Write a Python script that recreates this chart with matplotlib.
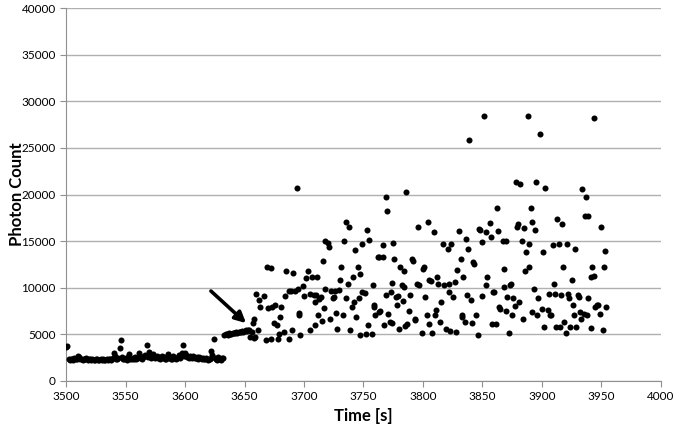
import matplotlib
matplotlib.use("Agg")
import matplotlib.pyplot as plt
import numpy as np

plt.rcParams['font.family'] = ['Lato', 'DejaVu Sans']

# baseline before the step, one reading per second from 3500 s
base_start = 3500
base_v = [3650, 3750, 2350, 2300, 2400, 2350, 2300, 2450, 2350, 2400, 2700, 2550, 2400, 2350, 2300, 2400, 2350, 2450, 2300, 2350,
          2400, 2300, 2350, 2250, 2300, 2400, 2350, 2300, 2250, 2350, 2300, 2400, 2300, 2250, 2350, 2300, 2400, 2350, 2300, 2450,
          3000, 2700, 2400, 2350, 2500, 3550, 4400, 2600, 2400, 2350, 2450, 2300, 2600, 2900, 2400, 2350, 2500, 2400, 2600, 2350,
          2450, 3050, 2700, 2500, 2400, 2550, 2800, 2650, 3900, 2600, 3150, 2500, 2650, 2900, 2550, 2450, 2700, 2500, 2600, 2400,
          2450, 2700, 2550, 2400, 2350, 2600, 2900, 2500, 2400, 2350, 2700, 2450, 2350, 2500, 2600, 2800, 2450, 3000, 3850, 2700,
          2950, 2800, 2600, 2500, 2700, 2550, 2450, 2650, 2500, 2450, 2600, 2400, 2550, 2450, 2400, 2500, 2350, 2400, 2450, 2300,
          2350, 2400, 3200, 2800, 4450, 2500, 2350, 2300, 2600, 2400, 2300, 2500, 2450]

# plateau right after the step (arrow)
step_start = 3633
step_v = [4950, 5000, 5050, 4950, 5100, 5000, 5050, 5100, 5150, 5100, 5200,
          5150, 5250, 5200, 5300, 5350, 5300, 5400, 5450, 5400, 5500, 5450]

# scattered readings after 3655 s
scat_t = [3655, 3658, 3659, 3658, 3660, 3662, 3663, 3666, 3661, 3668, 3669, 3672, 3670, 3672, 3673, 3675, 3676, 3677,
          3678, 3679, 3680, 3681, 3683, 3684, 3685, 3687, 3687, 3689, 3690, 3691, 3692, 3694, 3695, 3696, 3696, 3697,
          3657, 3656,
          3699, 3700, 3702, 3703, 3705, 3705, 3707, 3708, 3709, 3709, 3710, 3711, 3712, 3713, 3714, 3715, 3716, 3717,
          3718, 3718, 3720, 3721, 3722, 3723,
          3724, 3725, 3726, 3727, 3728, 3729, 3730, 3731, 3733, 3734, 3735, 3735, 3737, 3738, 3739, 3740, 3741, 3742,
          3743, 3744, 3745,
          3746, 3747, 3747, 3749, 3749, 3751, 3752, 3753, 3754, 3755, 3757, 3758, 3759, 3759, 3760, 3762, 3763, 3763,
          3764, 3766, 3766, 3767, 3769, 3769, 3770, 3771, 3772, 3773, 3774, 3774, 3775,
          3776, 3777, 3778, 3779, 3780, 3781, 3782, 3783, 3784, 3784, 3785, 3786, 3787, 3788, 3789, 3791, 3792, 3793,
          3793, 3795, 3796, 3797, 3799, 3800, 3801, 3802,
          3803, 3804, 3805, 3805, 3807, 3808, 3809, 3810, 3811, 3812, 3813, 3814, 3815, 3817, 3818, 3819, 3821, 3822,
          3822, 3823, 3824, 3825, 3827, 3828,
          3829, 3830, 3832, 3833, 3833, 3834, 3835, 3836, 3837, 3838, 3839, 3840, 3841, 3842, 3843, 3845, 3846, 3847,
          3848, 3850, 3850, 3851, 3853, 3853,
          3854, 3856, 3857, 3858, 3859, 3860, 3861, 3862, 3863, 3864, 3865, 3867, 3868, 3868, 3870, 3870, 3871, 3872,
          3873, 3874, 3875, 3876, 3877, 3878, 3879,
          3880, 3881, 3882, 3883, 3884, 3885, 3886, 3887, 3888, 3889, 3889, 3891, 3892, 3892, 3893, 3894, 3895, 3896,
          3897, 3898, 3900, 3901, 3902, 3903,
          3905, 3906, 3907, 3908, 3909, 3910, 3911, 3912, 3913, 3914, 3915, 3916, 3917, 3918, 3919, 3920, 3921, 3922,
          3923, 3924, 3925, 3926, 3927, 3928, 3929,
          3930, 3931, 3932, 3933, 3934, 3935, 3936, 3937, 3938, 3939, 3939, 3941, 3941, 3942, 3944, 3944, 3945, 3946,
          3947, 3949, 3950, 3951, 3952, 3953, 3954]
scat_v = [4750, 4650, 4750, 6700, 9350, 8700, 7950, 9100, 5450, 4400, 12200, 12100, 7850, 4450, 7950, 6250, 8100, 6000,
          4450, 5000, 6900, 7950, 5200, 9100, 11850, 4550, 9600, 9600, 5450, 11600, 9700, 20750, 9900, 7050, 7250, 4900,
          6200, 5300,
          10150, 9100, 11050, 11850, 5450, 9350, 11200, 9200, 6050, 8450, 9200, 11150, 7050, 8750, 9000, 6400, 12900, 7850,
          9850, 15000, 14800, 14350, 6600, 9700,
          8900, 9000, 9600, 7300, 5600, 9800, 10800, 12200, 7050, 15050, 8900, 17100, 10350, 16500, 5450, 7950, 11200, 8450,
          14050, 6850, 12200,
          8900, 11450, 4900, 9550, 14700, 9450, 5000, 16200, 6000, 15100, 5000, 10250, 8200, 7950, 7050, 13350, 7400, 13350,
          7500, 13350, 14550, 6000, 9250, 19700, 18200, 7200, 6350, 9550, 6250, 10500, 14800,
          13100, 9000, 8100, 9100, 5600, 12200, 10300, 8550, 11850, 10100, 5850, 20250, 6150, 7500, 9200, 13100, 12900, 6500,
          6600, 10450, 16550, 10300, 5150, 12050, 12200, 9000,
          7050, 17050, 10800, 6150, 10700, 5100, 15950, 7050, 7600, 11150, 10350, 6350, 8450, 14700, 10250, 5600, 14150, 10450,
          9550, 5350, 14700, 9000, 10650, 5250,
          11950, 16050, 13100, 7050, 6850, 11100, 6350, 15250, 9200, 14150, 25800, 8650, 6250, 12750, 12550, 7050, 4900, 16300,
          16200, 14900, 9100, 28400, 10250, 15950,
          11200, 16950, 15450, 6150, 9550, 9550, 6100, 18600, 16050, 7950, 7750, 15050, 12050, 10100, 7500, 15050, 9000, 5150,
          10250, 10450, 7050, 8850, 8000, 21300, 16550,
          16850, 8450, 21100, 15050, 6700, 16400, 11750, 13800, 28400, 12200, 14700, 18550, 7400, 17050, 9900, 16150, 21300, 7100,
          8850, 26450, 7750, 13800, 5750, 20650,
          7600, 9350, 7050, 7050, 14550, 10450, 9300, 5750, 17400, 14700, 5750, 9200, 16850, 12200, 6350, 5150, 14650, 9350,
          8850, 5750, 10800, 8100, 7050, 14150, 5750,
          9200, 9000, 7400, 6700, 20600, 7200, 17750, 19700, 7050, 8950, 17750, 11150, 5700, 12200, 28250, 11300, 7950, 8200,
          8100, 7200, 16550, 5500, 12200, 13900, 7950]

base_t = np.arange(base_start, base_start + len(base_v))
step_t = np.arange(step_start, step_start + len(step_v))
t_all = np.concatenate([base_t, step_t, scat_t])
v_all = np.concatenate([base_v, step_v, scat_v])

fig = plt.figure(figsize=(6.75, 4.29), dpi=100)
ax = fig.add_axes([0.098, 0.112, 0.881, 0.869])

ax.scatter(t_all, v_all, s=19, color='black', zorder=3, linewidths=0)

ax.annotate('', xy=(3653, 6000), xytext=(3620, 9850),
            arrowprops=dict(arrowstyle='-|>', color='black', lw=2.6, mutation_scale=16))

ax.set_xlim(3500, 4000)
ax.set_ylim(0, 40000)
ax.set_xticks(np.arange(3500, 4001, 50))
ax.set_yticks(np.arange(0, 40001, 5000))
ax.yaxis.grid(True, color='#b0b0b0', lw=1)
ax.set_axisbelow(True)
for s in ['top', 'right']:
    ax.spines[s].set_visible(False)
for s in ['left', 'bottom']:
    ax.spines[s].set_color('#909090')
ax.tick_params(axis='both', colors='#909090', labelcolor='black', labelsize=8.5, length=4)

ax.set_xlabel('Time [s]', fontsize=12, fontweight='bold', labelpad=4)
ax.set_ylabel('Photon Count', fontsize=12, fontweight='bold')
ax.yaxis.set_label_coords(-0.07, 0.5)

fig.savefig('out.png', dpi=100)
